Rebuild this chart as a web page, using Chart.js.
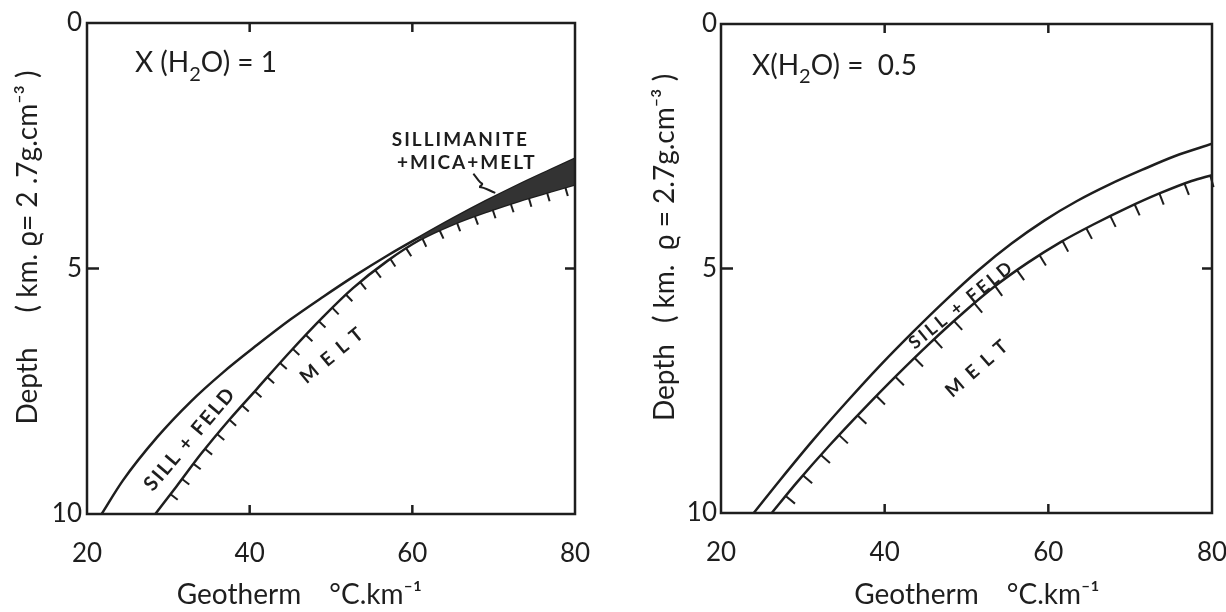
<!DOCTYPE html>
<html>
<head>
<meta charset="utf-8">
<script src="https://cdn.jsdelivr.net/npm/chart.js@4.4.1/dist/chart.umd.min.js"></script>
<style>
  html, body { margin: 0; padding: 0; background: #fff; }
  #wrap { position: relative; width: 1226px; height: 612px; }
  #wrap canvas { position: absolute; top: 0; display: block; }
  #left { left: 0; }
  #right { left: 613px; }
</style>
</head>
<body>
<div id="wrap">
  <canvas id="left" width="613" height="612"></canvas>
  <canvas id="right" width="613" height="612"></canvas>
</div>
<script>
const INK = '#1e1e1e';

// axis ticks
const geoTicks = [20, 40, 60, 80];
const depthTicks = [0, 5, 10];

// left panel, X(H2O) = 1
const sillT1 = [21.8, 24.4, 28.6, 32.7, 36.7, 40.9, 45, 49, 53, 57, 61, 65, 69, 73, 77, 80];
const sillD1 = [10.0, 9.32, 8.44, 7.72, 7.12, 6.56, 6.04, 5.58, 5.14, 4.73, 4.35, 3.98, 3.63, 3.30, 2.99, 2.76];
const meltT1 = [28.4, 31, 34, 37.5, 40.9, 45, 49, 52.7, 56.9, 61, 65, 69.2, 73.2, 77.3, 80];
const meltD1 = [10.0, 9.44, 8.78, 8.08, 7.45, 6.69, 5.99, 5.40, 4.85, 4.41, 4.10, 3.84, 3.62, 3.42, 3.29];
const lensFrom1 = 61; // sillimanite + mica + melt field starts here
const pointerT1 = [67.5, 68.7, 68.2, 70.2];
const pointerD1 = [3.07, 3.28, 3.34, 3.46];

// right panel, X(H2O) = 0.5
const sillT2 = [24.0, 27.2, 31.3, 35.4, 39.4, 43.5, 47.5, 51.5, 55.5, 59.5, 63.5, 67.5, 71.5, 75.5, 80];
const sillD2 = [10.0, 9.33, 8.50, 7.72, 6.99, 6.29, 5.64, 5.03, 4.49, 4.02, 3.62, 3.28, 2.98, 2.70, 2.45];
const meltT2 = [26.2, 29.25, 33.3, 37.4, 41.5, 45.5, 49.5, 53.5, 57.5, 61.5, 65.5, 69.5, 73.5, 77.5, 80];
const meltD2 = [10.0, 9.38, 8.61, 7.88, 7.18, 6.53, 5.92, 5.36, 4.88, 4.46, 4.10, 3.77, 3.47, 3.21, 3.09];

function pts(ts, ds) {
    return ts.map((t, i) => ({ x: t, y: ds[i] }));
}

function line(ctx, x1, y1, x2, y2) {
    ctx.beginPath();
    ctx.moveTo(x1, y1);
    ctx.lineTo(x2, y2);
    ctx.stroke();
}

// short ticks on the melt side of the solidus, walked along the curve
function drawHatches(ctx, points, gap, len, start) {
    let need = start;
    for (let i = 1; i < points.length; i++) {
        const p = points[i - 1];
        const q = points[i];
        const dx = q.x - p.x;
        const dy = q.y - p.y;
        const seg = Math.hypot(dx, dy);
        let t = need;
        while (t <= seg) {
            const cx = p.x + dx * t / seg;
            const cy = p.y + dy * t / seg;
            line(ctx, cx, cy, cx - dy / seg * len, cy + dx / seg * len);
            t += gap;
        }
        need = t - seg;
    }
}

function drawFormula(ctx, x0, y0, size, parts) {
    let x = x0;
    ctx.textAlign = 'left';
    ctx.textBaseline = 'alphabetic';
    parts.forEach(([txt, sub]) => {
        ctx.font = (sub ? Math.round(size * 0.72) : size) + 'px Lato';
        ctx.fillText(txt, x, y0 + (sub ? size * 0.3 : 0));
        x += ctx.measureText(txt).width;
    });
}

const decor = {
    id: 'decor',
    afterDatasetsDraw(chart, args, opts) {
        const { ctx, chartArea: a, scales: { x, y } } = chart;
        ctx.save();
        ctx.strokeStyle = INK;
        ctx.fillStyle = INK;
        ctx.lineCap = 'butt';

        const meta = chart.getDatasetMeta(opts.meltIndex);
        ctx.lineWidth = 2;
        drawHatches(ctx, meta.data.map(p => ({ x: p.x, y: p.y })), opts.hatchGap, opts.hatchLen, opts.hatchStart);

        ctx.lineWidth = 2.5;
        ctx.strokeRect(a.left, a.top, a.width, a.height);
        geoTicks.slice(1, -1).forEach(v => {
            const px = x.getPixelForValue(v);
            line(ctx, px, a.top, px, a.top + 9);
            line(ctx, px, a.bottom, px, a.bottom - 9);
        });
        depthTicks.slice(1, -1).forEach(v => {
            const py = y.getPixelForValue(v);
            line(ctx, a.left, py, a.left + 12, py);
            line(ctx, a.right, py, a.right - 10, py);
        });

        const f = opts.formula;
        drawFormula(ctx, x.getPixelForValue(f.t), y.getPixelForValue(f.d), f.size, f.parts);

        opts.labels.forEach(l => {
            ctx.save();
            ctx.translate(x.getPixelForValue(l.t), y.getPixelForValue(l.d));
            ctx.rotate((l.angle || 0) * Math.PI / 180);
            ctx.font = l.font;
            ctx.letterSpacing = l.spacing || '0px';
            ctx.textAlign = 'center';
            ctx.textBaseline = 'middle';
            ctx.fillText(l.text, 0, 0);
            ctx.restore();
        });
        ctx.restore();
    },
};

function makeOptions(cfg) {
    return {
        responsive: false,
        animation: false,
        layout: { padding: cfg.padding },
        elements: { point: { radius: 0 } },
        plugins: {
            legend: { display: false },
            tooltip: { enabled: false },
            decor: cfg.decor,
        },
        scales: {
            x: {
                type: 'linear',
                min: 20,
                max: 80,
                afterBuildTicks: s => { s.ticks = geoTicks.map(v => ({ value: v })); },
                afterFit: s => { s.height = cfg.xHeight; s.paddingLeft = 0; s.paddingRight = 0; },
                grid: { display: false, drawTicks: false },
                border: { display: false },
                ticks: { font: { family: 'Lato', size: 26 }, color: INK, padding: 24 },
                title: {
                    display: true,
                    text: cfg.xTitle,
                    font: { family: 'Lato', size: 28 },
                    color: INK,
                    padding: 0,
                },
            },
            y: {
                type: 'linear',
                reverse: true,
                min: 0,
                max: 10,
                afterBuildTicks: s => { s.ticks = depthTicks.map(v => ({ value: v })); },
                afterFit: s => { s.width = cfg.yWidth; s.paddingTop = 0; s.paddingBottom = 0; },
                grid: { display: false, drawTicks: false },
                border: { display: false },
                ticks: { font: { family: 'Lato', size: 26 }, color: INK, padding: cfg.yTickPad },
                title: {
                    display: true,
                    text: cfg.yTitle,
                    font: { family: 'Lato', size: 28 },
                    color: INK,
                    padding: { top: cfg.yTitlePad, bottom: 0 },
                },
            },
        },
    };
}

const curve = {
    borderColor: INK,
    borderWidth: 2.5,
    cubicInterpolationMode: 'monotone',
    fill: false,
};

new Chart(document.getElementById('left'), {
    type: 'line',
    data: {
        datasets: [
            {
                data: pts(sillT1, sillD1).filter(p => p.x >= lensFrom1),
                borderWidth: 0,
                borderColor: 'rgba(0,0,0,0)',
                backgroundColor: '#333',
                cubicInterpolationMode: 'monotone',
                fill: '+1',
            },
            { ...curve, data: pts(meltT1, meltD1) },
            { ...curve, data: pts(sillT1, sillD1) },
            { ...curve, borderWidth: 2, tension: 0, data: pts(pointerT1, pointerD1) },
        ],
    },
    options: makeOptions({
        padding: { top: 23, right: 38, left: 0, bottom: 0 },
        xHeight: 98,
        yWidth: 87,
        yTickPad: 5,
        yTitlePad: 11,
        xTitle: 'Geotherm\u2003 °C.km⁻¹\u2003\u2003\u2003',
        yTitle: '\u2003\u2003Depth\u2003\u2002( km. ϱ= 2 .7g.cm⁻³ )',
        decor: {
            meltIndex: 1,
            hatchGap: 19,
            hatchLen: 9,
            hatchStart: 25,
            formula: { t: 25.9, d: 1.0, size: 28, parts: [['X (H', 0], ['2', 1], ['O) = 1', 0]] },
            labels: [
                { text: 'SILLIMANITE', t: 65.9, d: 2.38, font: 'bold 19px Lato', spacing: '2px' },
                { text: '+MICA+MELT', t: 66.7, d: 2.84, font: 'bold 19px Lato', spacing: '2px' },
                { text: 'SILL + FELD', t: 32.66, d: 8.47, angle: -49.5, font: 'bold 20px Lato', spacing: '2px' },
                { text: 'MELT', t: 50.5, d: 6.72, angle: -39.5, font: 'bold 19px Lato', spacing: '9px' },
            ],
        },
    }),
    plugins: [decor],
});

new Chart(document.getElementById('right'), {
    type: 'line',
    data: {
        datasets: [
            { ...curve, data: pts(meltT2, meltD2) },
            { ...curve, data: pts(sillT2, sillD2) },
        ],
    },
    options: makeOptions({
        padding: { top: 24, right: 14, left: 0, bottom: 0 },
        xHeight: 99,
        yWidth: 108,
        yTickPad: 4,
        yTitlePad: 35,
        xTitle: '\u2003Geotherm\u2003 °C.km⁻¹',
        yTitle: '\u2003\u2003Depth\u2003( km.  ϱ = 2.7g.cm⁻³ )',
        decor: {
            meltIndex: 0,
            hatchGap: 27,
            hatchLen: 12,
            hatchStart: 22,
            formula: { t: 23.8, d: 1.04, size: 28, parts: [['X(H', 0], ['2', 1], ['O) =  0.5', 0]] },
            labels: [
                { text: 'SILL + FELD', t: 49.4, d: 5.74, angle: -39, font: 'bold 18px Lato', spacing: '3px' },
                { text: 'MELT', t: 51.65, d: 6.99, angle: -41, font: 'bold 19px Lato', spacing: '9px' },
            ],
        },
    }),
    plugins: [decor],
});
</script>
</body>
</html>
